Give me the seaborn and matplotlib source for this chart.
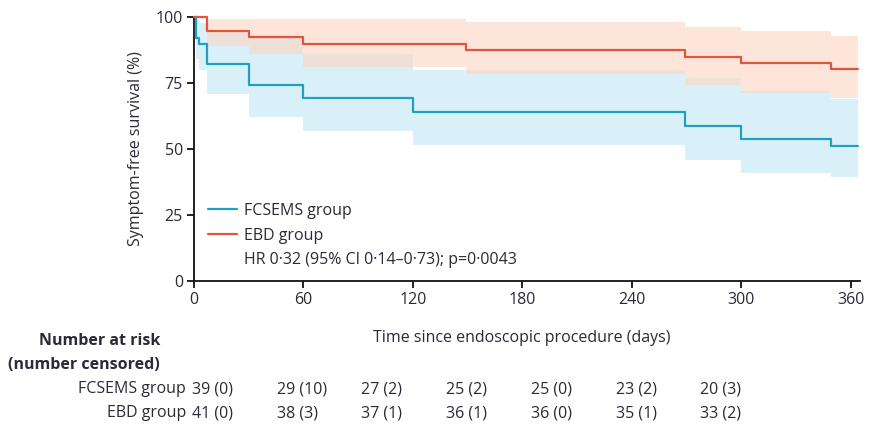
import matplotlib
matplotlib.use("Agg")
import matplotlib.pyplot as plt
from matplotlib.lines import Line2D
import seaborn as sns
import pandas as pd

# ---- data ----
fcsems_days = [0, 1, 3, 7, 30, 60, 120, 269, 300, 349, 364]
fcsems_surv = [100, 92.3, 89.7, 82.1, 74.4, 69.2, 63.9, 58.9, 53.8, 51.3, 51.3]
fcsems_lower = [100, 84, 80, 71, 62, 57, 51.5, 46, 41, 39.5, 39.5]
fcsems_upper = [100, 99, 98, 95, 92, 86, 80, 77, 72, 69, 69]

ebd_days = [0, 7, 30, 60, 149, 269, 300, 349, 364]
ebd_surv = [100, 94.8, 92.5, 90.0, 87.4, 85.1, 82.7, 80.3, 80.3]
ebd_lower = [100, 89, 86, 81.3, 78.5, 74.3, 71.2, 69.4, 69.4]
ebd_upper = [100, 99.5, 99.5, 99.5, 98.2, 96.2, 94.9, 93, 93]

x_ticks = [0, 60, 120, 180, 240, 300, 360]
y_ticks = [0, 25, 50, 75, 100]

risk_fcsems = ["39 (0)", "29 (10)", "27 (2)", "25 (2)", "25 (0)", "23 (2)", "20 (3)"]
risk_ebd = ["41 (0)", "38 (3)", "37 (1)", "36 (1)", "36 (0)", "35 (1)", "33 (2)"]

group_names = ["FCSEMS group", "EBD group"]
hr_text = "HR 0·32 (95% CI 0·14–0·73); p=0·0043"

# ---- style ----
sns.set_theme(style="ticks")
plt.rcParams["font.family"] = ["Open Sans", "DejaVu Sans"]
text_col = "#2a2a38"

blue = "#1ea0c0"
red = "#e0553f"
blue_fill = "#daf0f8"
red_fill = "#fcd5c1"

W, H = 874, 425
fig = plt.figure(figsize=(W / 100, H / 100), dpi=100)
ax = fig.add_axes([194 / W, (H - 280.7) / H, (860 - 194) / W, (280.7 - 17.3) / H])

df_f = pd.DataFrame({"day": fcsems_days, "surv": fcsems_surv,
                     "lo": fcsems_lower, "hi": fcsems_upper})
df_e = pd.DataFrame({"day": ebd_days, "surv": ebd_surv,
                     "lo": ebd_lower, "hi": ebd_upper})

ax.fill_between(df_f["day"], df_f["lo"], df_f["hi"], step="post",
                color=blue_fill, alpha=1.0, linewidth=0, zorder=1)
ax.fill_between(df_e["day"], df_e["lo"], df_e["hi"], step="post",
                color=red_fill, alpha=0.6, linewidth=0, zorder=1)

sns.lineplot(data=df_f, x="day", y="surv", drawstyle="steps-post",
             color=blue, linewidth=1.6, ax=ax, zorder=3, clip_on=False)
sns.lineplot(data=df_e, x="day", y="surv", drawstyle="steps-post",
             color=red, linewidth=1.6, ax=ax, zorder=3, clip_on=False)

ax.set_xlim(0, 365)
ax.set_ylim(0, 100)
ax.set_xticks(x_ticks)
ax.set_yticks(y_ticks)
ax.tick_params(axis="both", direction="out", length=5, width=1.3,
               labelsize=11.5, colors="#111111", labelcolor=text_col, pad=3)
for s in ["left", "bottom"]:
    ax.spines[s].set_linewidth(1.3)
    ax.spines[s].set_color("#111111")
sns.despine(ax=ax)

ax.set_xlabel("")
ax.set_ylabel("Symptom-free survival (%)", fontsize=11.5, color=text_col, labelpad=8)

handles = [Line2D([], [], color=blue, lw=1.6),
           Line2D([], [], color=red, lw=1.6),
           Line2D([], [], color="none", lw=1.6)]
leg = ax.legend(handles, group_names + [hr_text], loc="lower left",
                bbox_to_anchor=(0.0, -0.008), frameon=False, fontsize=11.5,
                handlelength=1.8, handletextpad=0.45, labelspacing=0.55)
for t in leg.get_texts():
    t.set_color(text_col)

# ---- number at risk table ----
fs = 11.5
fig.text(522 / W, 1 - 338 / H, "Time since endoscopic procedure (days)",
         ha="center", va="center", fontsize=fs, color=text_col)
fig.text(160 / W, 1 - 341 / H, "Number at risk", ha="right", va="center",
         fontsize=fs, fontweight="bold", color=text_col)
fig.text(160 / W, 1 - 365 / H, "(number censored)", ha="right", va="center",
         fontsize=fs, fontweight="bold", color=text_col)
row_y = [389, 413]
for name, yy, vals in zip(group_names, row_y, [risk_fcsems, risk_ebd]):
    fig.text(186 / W, 1 - yy / H, name, ha="right", va="center",
             fontsize=fs, color=text_col)
    for i, v in enumerate(vals):
        fig.text((192 + 84.7 * i) / W, 1 - yy / H, v, ha="left", va="center",
                 fontsize=fs, color=text_col)

fig.savefig("out.png", dpi=100)
